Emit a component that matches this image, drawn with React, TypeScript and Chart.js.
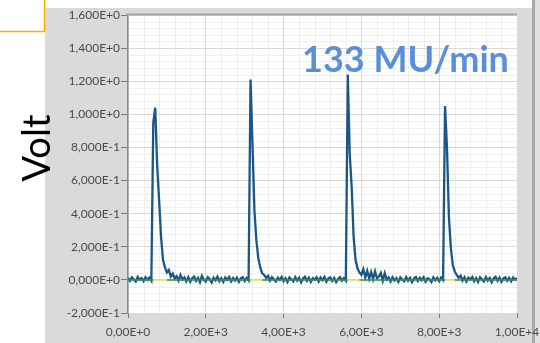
import { useEffect, useRef } from 'react';
import { Chart, registerables } from 'chart.js';

Chart.register(...registerables);

// Detector output sampled every 50 time units, from 0 to 10000
const sampleStep = 50;
const voltage = [
  0.012, -0.006, 0.015, 0.004, -0.010, 0.018, 0.002, 0.011, -0.008, 0.016,
  0.000, 0.013, -0.005, 0.950, 1.040, 0.690, 0.480, 0.260, 0.120, 0.075,
  0.045, 0.060, 0.020, 0.038, 0.008, 0.022, -0.004, 0.030, 0.002, 0.014,
  -0.009, 0.017, -0.012, 0.010, 0.020, -0.006, 0.012, -0.014, 0.024, 0.001,
  -0.010, 0.016, 0.005, -0.016, 0.013, -0.003, 0.019, -0.008, 0.010, -0.012,
  0.015, 0.000, 0.018, -0.009, 0.011, -0.004, 0.014, -0.011, 0.009, 0.017,
  -0.007, 0.012, -0.003, 1.210, 0.820, 0.420, 0.240, 0.130, 0.075, 0.040,
  0.030, 0.012, 0.024, -0.005, 0.016, 0.003, -0.010, 0.014, 0.000, 0.018,
  -0.008, 0.010, -0.013, 0.015, 0.004, -0.009, 0.017, -0.004, 0.012, -0.015,
  0.008, 0.019, -0.006, 0.013, -0.012, 0.010, 0.001, 0.016, -0.010, 0.014,
  -0.002, 0.018, -0.011, 0.009, 0.015, -0.007, 0.012, -0.013, 0.006, 0.017,
  -0.005, 0.011, -0.004, 1.240, 0.760, 0.560, 0.260, 0.120, 0.070, 0.045,
  0.030, 0.065, 0.015, 0.055, 0.008, 0.048, 0.004, 0.052, 0.010, 0.020,
  0.042, -0.006, 0.040, 0.002, 0.014, -0.010, 0.016, -0.004, 0.011, -0.013,
  0.015, 0.002, -0.009, 0.017, -0.005, 0.012, -0.014, 0.009, 0.018, -0.007,
  0.013, -0.002, 0.016, -0.011, 0.010, 0.004, -0.012, 0.015, -0.003, 0.012,
  -0.008, 0.014, 0.000, 1.050, 0.800, 0.380, 0.190, 0.090, 0.050, 0.030,
  0.012, 0.025, -0.004, 0.016, -0.010, 0.013, 0.002, 0.018, -0.008, 0.011,
  -0.013, 0.015, 0.003, -0.009, 0.017, -0.004, 0.012, -0.014, 0.010, 0.019,
  -0.006, 0.013, -0.011, 0.009, 0.016, -0.005, 0.012, -0.009, 0.014, 0.001,
  0.011,
];

// Time spans where the output is above the resting level
const pulseWindows = [
  [650, 1000],
  [3150, 3450],
  [5650, 5950],
  [8150, 8400],
];

const restingLevel = 0;

const yTickLabels = [
  '-2,000E-1', '0,000E+0', '2,000E-1', '4,000E-1', '6,000E-1',
  '8,000E-1', '1,000E+0', '1,200E+0', '1,400E+0', '1,600E+0',
];
const xTickLabels = ['0,00E+0', '2,00E+3', '4,00E+3', '6,00E+3', '8,00E+3', '1,00E+4'];

const axisTitle = 'Volt';
const rateLabel = '133 MU/min';

const X_MIN = 0;
const X_MAX = 10000;
const X_STEP = 2000;
const Y_MIN = -0.2;
const Y_MAX = 1.6;
const Y_STEP = 0.2;
const MINOR_DIVISIONS = 5;

const signalPoints = voltage.map((v, i) => ({ x: i * sampleStep, y: v }));
const restingPoints = voltage.map((_, i) => {
  const t = i * sampleStep;
  const inPulse = pulseWindows.some(([a, b]) => t > a && t < b);
  return { x: t, y: inPulse ? null : restingLevel };
});
const zeroLine = [
  { x: X_MIN, y: restingLevel },
  { x: X_MAX, y: restingLevel },
];

const panelPlugin = {
  id: 'panel',
  beforeDraw(chart: any) {
    const { ctx, width, height, chartArea, scales } = chart;
    ctx.save();
    ctx.fillStyle = '#ffffff';
    ctx.fillRect(0, 0, width, height);
    // grey instrument panel
    ctx.fillStyle = '#dadada';
    ctx.fillRect(45, 8, 487, height - 8);
    ctx.fillStyle = '#a9a9a9';
    ctx.fillRect(532, 0, 3, height);
    ctx.fillStyle = '#e2e2e2';
    ctx.fillRect(535, 0, width - 535, height);
    // plot background
    ctx.fillStyle = '#ffffff';
    ctx.fillRect(chartArea.left, chartArea.top, chartArea.right - chartArea.left, chartArea.bottom - chartArea.top);
    // minor grid
    ctx.strokeStyle = '#efefef';
    ctx.lineWidth = 1;
    const xs = scales.x;
    const ys = scales.y;
    const xMinor = X_STEP / MINOR_DIVISIONS;
    for (let k = 1; k * xMinor < X_MAX; k++) {
      if (k % MINOR_DIVISIONS === 0) continue;
      const px = Math.round(xs.getPixelForValue(k * xMinor)) + 0.5;
      ctx.beginPath();
      ctx.moveTo(px, chartArea.top);
      ctx.lineTo(px, chartArea.bottom);
      ctx.stroke();
    }
    const yMinor = Y_STEP / MINOR_DIVISIONS;
    const yCount = Math.round((Y_MAX - Y_MIN) / yMinor);
    for (let k = 1; k < yCount; k++) {
      if (k % MINOR_DIVISIONS === 0) continue;
      const py = Math.round(ys.getPixelForValue(Y_MIN + k * yMinor)) + 0.5;
      ctx.beginPath();
      ctx.moveTo(chartArea.left, py);
      ctx.lineTo(chartArea.right, py);
      ctx.stroke();
    }
    ctx.restore();
  },
  afterDraw(chart: any) {
    const { ctx, chartArea } = chart;
    ctx.save();
    // top frame of the plot
    ctx.strokeStyle = '#a4a4a4';
    ctx.lineWidth = 2;
    ctx.beginPath();
    ctx.moveTo(chartArea.left - 2, chartArea.top - 0.5);
    ctx.lineTo(chartArea.right, chartArea.top - 0.5);
    ctx.stroke();
    // highlight box corner
    ctx.strokeStyle = '#f2b300';
    ctx.lineWidth = 1.5;
    ctx.beginPath();
    ctx.moveTo(0, 31.5);
    ctx.lineTo(44.5, 31.5);
    ctx.lineTo(44.5, 0);
    ctx.stroke();
    // vertical axis caption
    ctx.fillStyle = '#000000';
    ctx.font = '38px Lato';
    ctx.textAlign = 'center';
    ctx.textBaseline = 'alphabetic';
    ctx.translate(50, 148);
    ctx.rotate(-Math.PI / 2);
    ctx.fillText(axisTitle, 0, 0);
    ctx.restore();
    ctx.save();
    ctx.fillStyle = '#5a8fd8';
    ctx.font = 'bold 36px Lato';
    ctx.textAlign = 'left';
    ctx.textBaseline = 'alphabetic';
    ctx.fillText(rateLabel, 302, 72);
    ctx.restore();
  },
};

const tickFont = { family: 'Lato', size: 12 };
const tickColor = '#4a4a4a';

export default function App() {
  const canvasRef = useRef<HTMLCanvasElement | null>(null);

  useEffect(() => {
    const canvas = canvasRef.current;
    if (!canvas) return;
    const chart = new Chart(canvas, {
      type: 'line',
      data: {
        datasets: [
          {
            data: restingPoints,
            borderColor: '#3d9150',
            borderWidth: 1.5,
            pointRadius: 0,
            tension: 0,
            spanGaps: false,
          },
          {
            data: signalPoints,
            borderColor: '#1b5688',
            borderWidth: 2.3,
            pointRadius: 0,
            tension: 0,
          },
          {
            data: zeroLine,
            borderColor: '#e8e04c',
            borderWidth: 1.6,
            pointRadius: 0,
            tension: 0,
          },
        ],
      },
      plugins: [panelPlugin],
      options: {
        responsive: false,
        animation: false,
        devicePixelRatio: 1,
        parsing: false,
        layout: { padding: { left: 0, right: 23, top: 15, bottom: 0 } },
        plugins: {
          legend: { display: false },
          tooltip: { enabled: false },
        },
        scales: {
          x: {
            type: 'linear',
            min: X_MIN,
            max: X_MAX,
            ticks: {
              stepSize: X_STEP,
              autoSkip: false,
              maxRotation: 0,
              padding: 7,
              color: tickColor,
              font: tickFont,
              callback: (_v: any, i: number) => xTickLabels[i],
            },
            grid: { color: '#d9d9d9', tickColor: '#7a7a7a', tickLength: 5 },
            border: { display: false },
            afterFit: (s: any) => {
              s.height = 30;
              s.paddingLeft = 0;
              s.paddingRight = 0;
            },
          },
          y: {
            type: 'linear',
            min: Y_MIN,
            max: Y_MAX,
            ticks: {
              stepSize: Y_STEP,
              autoSkip: false,
              padding: 1,
              color: tickColor,
              font: tickFont,
              callback: (_v: any, i: number) => yTickLabels[i],
            },
            grid: { color: '#d9d9d9', tickColor: '#7a7a7a', tickLength: 7 },
            border: { color: '#8c8c8c', width: 1.5 },
            afterFit: (s: any) => {
              s.width = 128;
              s.paddingTop = 0;
              s.paddingBottom = 0;
            },
          },
        },
      } as any,
    });
    return () => chart.destroy();
  }, []);

  return (
    <div style={{ position: 'fixed', left: 0, top: 0, width: 540, height: 343 }}>
      <canvas ref={canvasRef} width={540} height={343} style={{ display: 'block' }} />
    </div>
  );
}
